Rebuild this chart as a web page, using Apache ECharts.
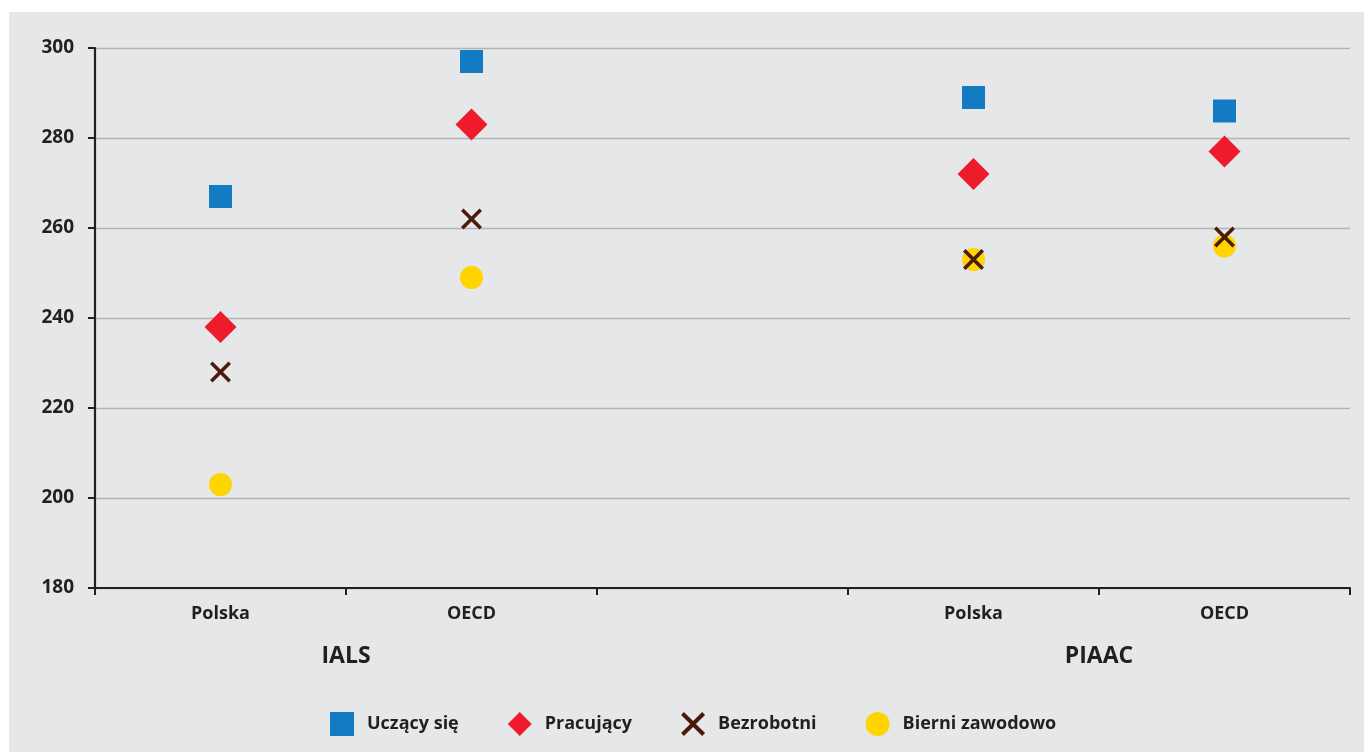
<!DOCTYPE html>
<html>
<head>
<meta charset="utf-8">
<script src="https://cdn.jsdelivr.net/npm/echarts@6/dist/echarts.min.js"></script>
<style>
  html, body { margin:0; padding:0; background:#ffffff; }
  #bg { position:absolute; left:9px; top:12px; width:1355px; height:740px; background:#e6e7e9; }
  #chart { position:absolute; left:0; top:0; width:1364px; height:752px; }
</style>
</head>
<body>
<div id="bg"></div>
<div id="chart"></div>
<script>
// ---- data ----
const categories = ['Polska', 'OECD', '', 'Polska', 'OECD'];
const groupNames = ['IALS', 'PIAAC'];
const groupMembers = [[0, 1], [3, 4]];
const seriesNames = ['Uczący się', 'Pracujący', 'Bezrobotni', 'Bierni zawodowo'];
const uczacySie   = [267, 297, null, 289, 286];
const pracujacy   = [238, 283, null, 272, 277];
const bezrobotni  = [228, 262, null, 253, 258];
const bierni      = [203, 249, null, 253, 256];
const yTicks = [180, 200, 220, 240, 260, 280, 300];

// ---- chart ----
const ink = '#231f20';
const font = '"Open Sans", "Noto Sans", sans-serif';
const crossPath = 'path://M12,0 L50,38 L88,0 L100,12 L62,50 L100,88 L88,100 L50,62 L12,100 L0,88 L38,50 L0,12 Z';

function toPoints(arr) {
  const out = [];
  arr.forEach((v, i) => { if (v != null) out.push([i, v]); });
  return out;
}
const catKeys = categories.map((c, i) => 'c' + i);
const groupCenter = {};
groupMembers.forEach((m, gi) => { groupCenter[(m[0] + m[m.length - 1] + 1) / 2] = groupNames[gi]; });

const chart = echarts.init(document.getElementById('chart'), null, { renderer: 'canvas' });
chart.setOption({
  backgroundColor: 'transparent',
  animation: false,
  grid: { left: 95, right: 14, top: 48, bottom: 164, containLabel: false },
  xAxis: [
    {
      type: 'category',
      data: catKeys,
      boundaryGap: true,
      axisLine: { lineStyle: { color: ink, width: 2.2 } },
      axisTick: { show: true, length: 7, lineStyle: { color: ink, width: 2 } },
      axisLabel: {
        margin: 17, color: ink, fontFamily: font, fontWeight: 'bold', fontSize: 18,
        interval: 0,
        formatter: (v, i) => categories[i]
      },
      splitLine: { show: false }
    },
    {
      type: 'value',
      position: 'bottom',
      min: 0, max: categories.length, interval: 0.5,
      axisLine: { show: false }, axisTick: { show: false }, splitLine: { show: false },
      axisLabel: {
        margin: 57, color: ink, fontFamily: font, fontWeight: 'bold', fontSize: 23,
        showMinLabel: true, showMaxLabel: true,
        formatter: (v) => groupCenter[v] || ''
      }
    }
  ],
  yAxis: {
    type: 'value',
    min: yTicks[0], max: yTicks[yTicks.length - 1], interval: yTicks[1] - yTicks[0],
    axisLine: { show: true, lineStyle: { color: ink, width: 2.2 } },
    axisTick: { show: true, length: 7, lineStyle: { color: ink, width: 2 } },
    axisLabel: { margin: 21, color: ink, fontFamily: font, fontWeight: 'bold', fontSize: 19 },
    splitLine: { show: true, lineStyle: { color: '#b2b3b5', width: 1.3 } }
  },
  legend: {
    bottom: 11, left: 325,
    itemWidth: 24, itemHeight: 24, itemGap: 49,
    textStyle: { color: ink, fontFamily: font, fontWeight: 'bold', fontSize: 18, padding: [0, 0, 0, 8] },
    data: seriesNames
  },
  series: [
    { name: seriesNames[0], type: 'scatter', symbol: 'rect', symbolSize: 23, z: 2,
      itemStyle: { color: '#127bc2', opacity: 1 }, data: toPoints(uczacySie) },
    { name: seriesNames[1], type: 'scatter', symbol: 'diamond', symbolSize: 32, z: 3,
      itemStyle: { color: '#ee1c2b', opacity: 1 }, data: toPoints(pracujacy) },
    { name: seriesNames[3], type: 'scatter', symbol: 'circle', symbolSize: 23, z: 4,
      itemStyle: { color: '#ffd500', opacity: 1 }, data: toPoints(bierni) },
    { name: seriesNames[2], type: 'scatter', symbol: crossPath, symbolSize: 21, z: 5,
      itemStyle: { color: '#4b1a0b', opacity: 1 }, data: toPoints(bezrobotni) }
  ]
});
</script>
</body>
</html>
